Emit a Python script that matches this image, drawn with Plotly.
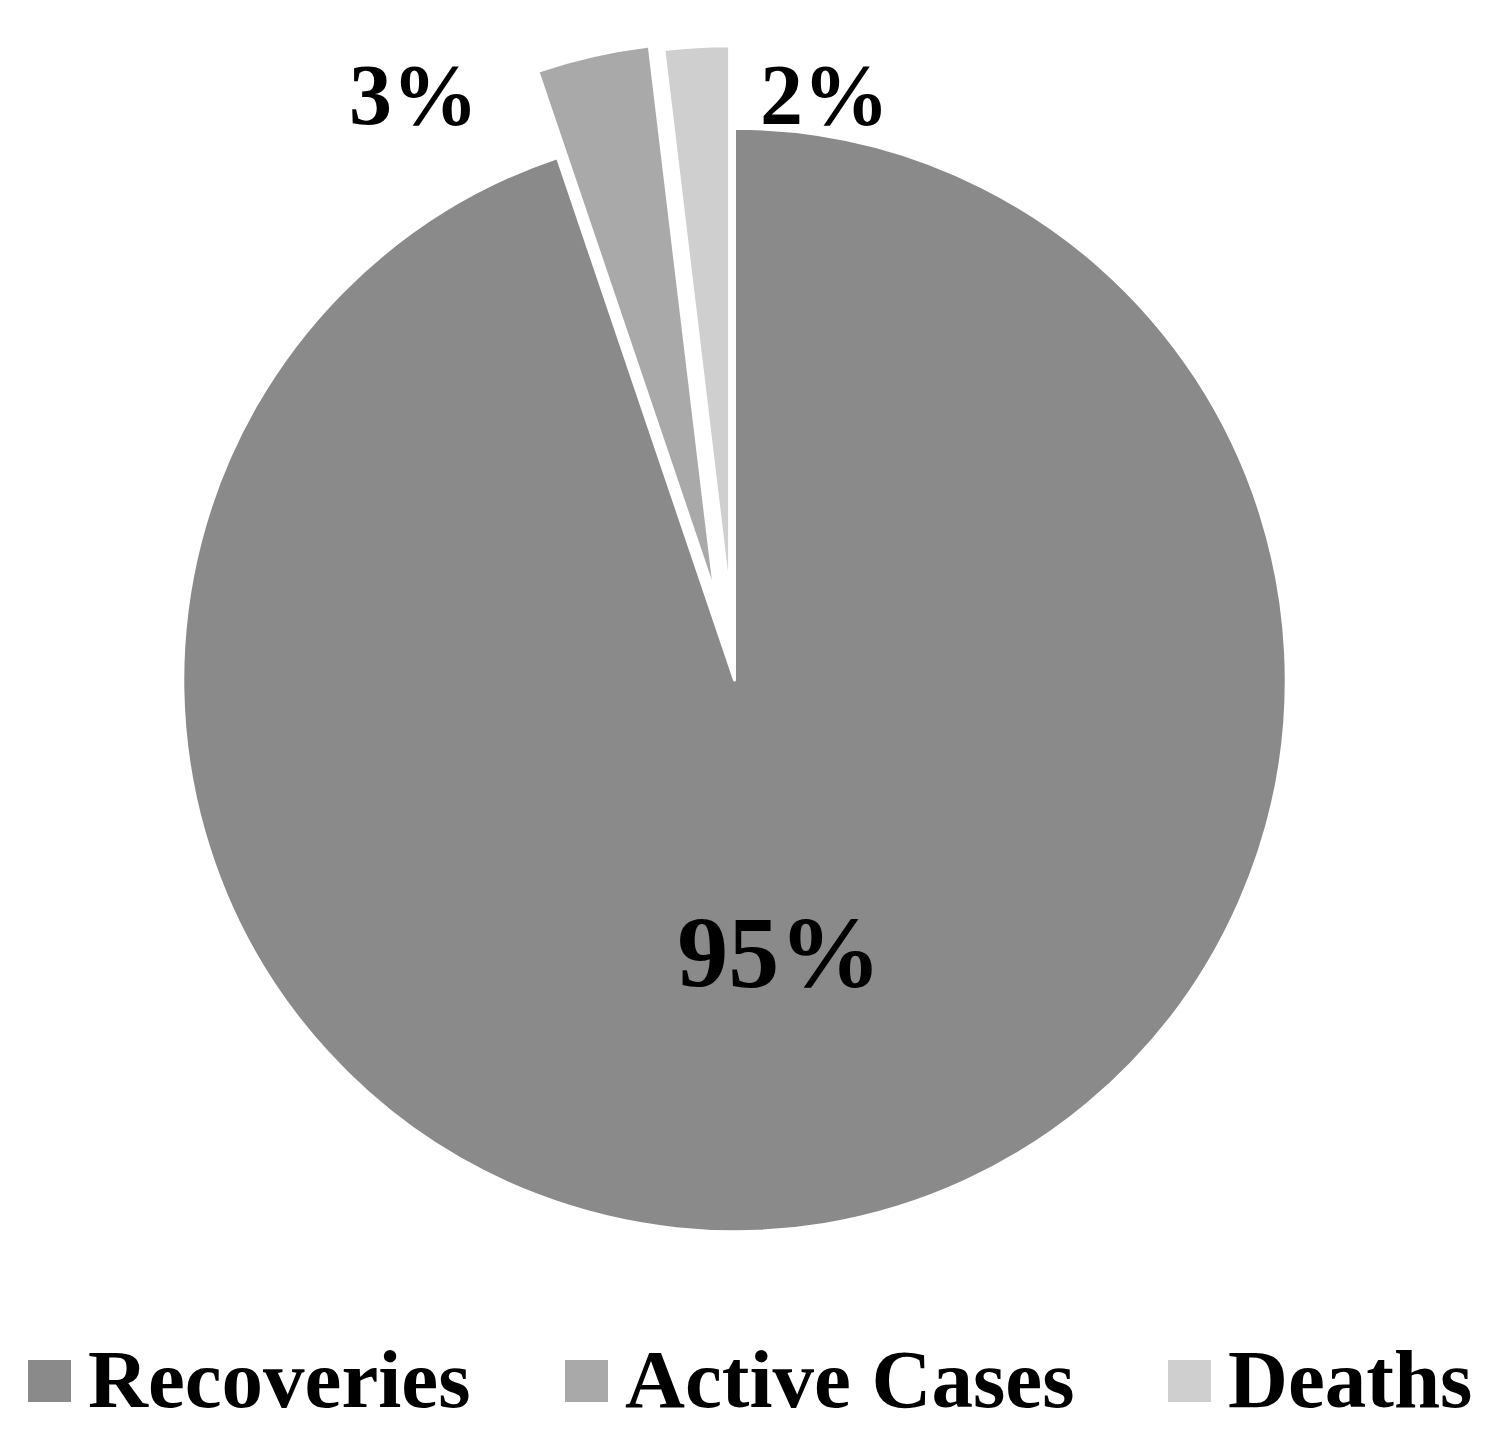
import plotly.graph_objects as go

# pie data (share of cases)
labels = ["Recoveries", "Active Cases", "Deaths"]
values = [94.8, 3.3, 1.9]
colors = ["#8a8a8a", "#a9a9a9", "#cfcfcf"]
pulls = [0, 0.16, 0.15]

W, H = 1486, 1444
OFF = 8  # page body margin in the browser
FONT = "Liberation Serif, Times New Roman, serif"

def px(x):
    return (x - OFF) / W

def py(y):
    return 1 - (y - OFF) / H

total = sum(values)
pct = [f"{round(v / total * 100)}%" for v in values]

fig = go.Figure()
fig.add_trace(go.Pie(
    labels=labels,
    values=values,
    sort=False,
    direction="clockwise",
    rotation=0,
    pull=pulls,
    marker=dict(colors=colors, line=dict(color="white", width=3)),
    texttemplate=["<b>%{percent:.0%}</b>", "", ""],
    textposition="inside",
    insidetextorientation="horizontal",
    insidetextfont=dict(family=FONT, size=102, color="black"),
    domain=dict(x=[px(94), px(1375)], y=[py(1320), py(40)]),
    showlegend=False,
    hoverinfo="label+percent",
))

# outside labels for the two small slices
annos = []
for i, (xc, yc) in zip([1, 2], [(413, 95), (825, 95)]):
    annos.append(dict(
        text=f"<b>{pct[i]}</b>", x=px(xc), y=py(yc), xref="paper", yref="paper",
        xanchor="center", yanchor="middle", showarrow=False,
        font=dict(family=FONT, size=86, color="black"),
    ))

# legend drawn by hand so the swatches can be big
shapes = []
legend_x = [28, 565, 1168]  # swatch left edges (px)
for lab, col, lx in zip(labels, colors, legend_x):
    shapes.append(dict(
        type="rect", xref="paper", yref="paper",
        x0=px(lx), x1=px(lx + 43), y0=py(1402), y1=py(1360),
        fillcolor=col, line=dict(width=0),
    ))
    annos.append(dict(
        text=f"<b>{lab}</b>", x=px(lx + 58), y=py(1379), xref="paper", yref="paper",
        xanchor="left", yanchor="middle", showarrow=False,
        font=dict(family=FONT, size=83, color="black"),
    ))

fig.update_layout(
    width=W, height=H,
    margin=dict(l=0, r=0, t=0, b=0),
    paper_bgcolor="white", plot_bgcolor="white",
    annotations=annos, shapes=shapes,
)

fig.write_html("out.html")
